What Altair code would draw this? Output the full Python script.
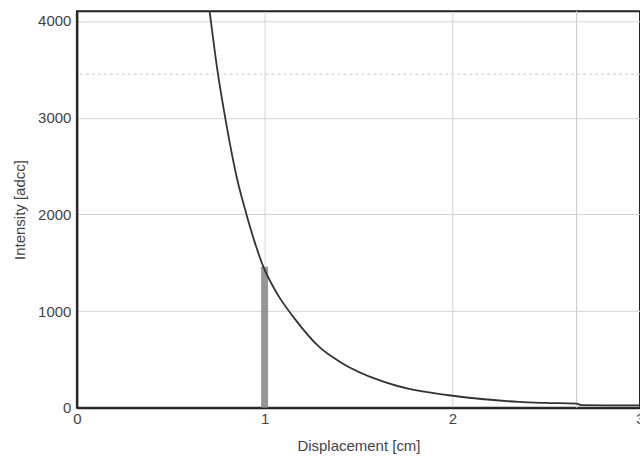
import altair as alt
import pandas as pd

# Intensity profile along the displacement axis
disp_cm = [0.690, 0.707, 0.748, 0.792, 0.855, 0.902, 0.990, 1.070, 1.158,
           1.291, 1.413, 1.610, 1.753, 1.982, 2.157, 2.354, 2.497, 2.662, 2.689, 3.0]
intensity = [4350, 4100, 3500, 2980, 2355, 2010, 1475, 1170, 927,
             629, 461, 285, 202, 129, 90, 60, 50, 43, 26, 24]

# Marker bar at the selected position
marker_x = [1.0]
marker_y = [1458]

# Cursor cross-hair
cursor_x = [2.662]
cursor_y = [3450]

x_ticks = [0, 1, 2, 3]
y_ticks = [0, 1000, 2000, 3000, 4000]

curve_df = pd.DataFrame({"x": disp_cm, "y": intensity})
marker_df = pd.DataFrame({"x": marker_x, "y": marker_y})
cx_df = pd.DataFrame({"x": cursor_x})
cy_df = pd.DataFrame({"y": cursor_y})

xs = alt.Scale(domain=[0, 3], nice=False, zero=False)
ys = alt.Scale(domain=[0, 4100], nice=False)

x_axis = alt.Axis(values=x_ticks, title="Displacement [cm]", format="d",
                  grid=True, ticks=False, labelPadding=4, titlePadding=12,
                  labelFlush=False)
y_axis = alt.Axis(values=y_ticks, title="Intensity [adcc]", format="d",
                  grid=True, ticks=False, labelPadding=6, titlePadding=10,
                  labelFlush=False)

cursor_v = alt.Chart(cx_df).mark_rule(color="#cfcfcf", strokeWidth=1.2).encode(
    x=alt.X("x:Q", scale=xs, axis=x_axis)
)
cursor_h = alt.Chart(cy_df).mark_rule(color="#c8c8c8", strokeWidth=1,
                                      strokeDash=[3, 3]).encode(
    y=alt.Y("y:Q", scale=ys, axis=y_axis)
)

marker = alt.Chart(marker_df).mark_rule(color="#8c8c8c", strokeWidth=7,
                                        opacity=0.9).encode(
    x=alt.X("x:Q", scale=xs, axis=x_axis),
    y=alt.Y("y:Q", scale=ys, axis=y_axis),
    y2=alt.datum(0),
)

curve = alt.Chart(curve_df).mark_line(color="#333333", strokeWidth=1.8,
                                      clip=True, interpolate="monotone").encode(
    x=alt.X("x:Q", scale=xs, axis=x_axis),
    y=alt.Y("y:Q", scale=ys, axis=y_axis),
)

chart = alt.layer(cursor_v, cursor_h, marker, curve).properties(
    width=564, height=397,
    padding={"left": 77, "top": 11, "right": 0, "bottom": 48},
    autosize=alt.AutoSizeParams(type="none"),
    background="white",
).configure_view(
    stroke="#222222", strokeWidth=2
).configure_axis(
    labelFont="Liberation Sans", titleFont="Liberation Sans",
    labelFontSize=15, titleFontSize=15, titleFontWeight="normal",
    labelColor="#444444", titleColor="#444444",
    gridColor="#d4d4d4", gridWidth=1,
    domainColor="#222222", domainWidth=2,
).configure_axisX(
    labelOverlap=False
)

chart.save("out.html", embed_options={"renderer": "svg", "actions": False})
